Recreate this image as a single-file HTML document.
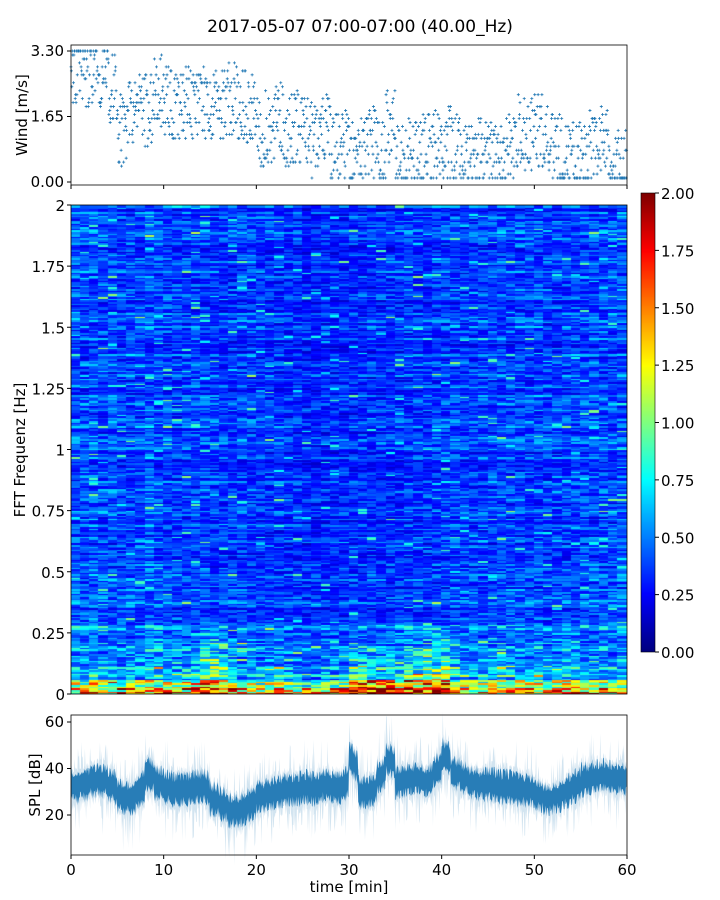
<!DOCTYPE html>
<html><head><meta charset="utf-8">
<style>
body{margin:0;background:#fff;width:720px;height:900px;overflow:hidden;font-family:"DejaVu Sans",sans-serif}
#wrap{position:relative;width:720px;height:900px}
svg text{font-family:"DejaVu Sans",sans-serif;fill:#000}
canvas{position:absolute}
</style></head><body>
<div id="wrap">
<canvas id="hm" width="556" height="489" style="left:71px;top:205px"></canvas>
<canvas id="cb" width="14" height="459" style="left:641px;top:193px"></canvas>
<svg id="sv" width="720" height="900" style="position:absolute;left:0;top:0"></svg>
</div>
<script>
// ---- data ----
const minutes = Array.from({length:60},(_, i)=>i);
const windMean = [2.8,2.7,2.8,2.7,2.4,1.3,1.8,2.0,1.8,2.3,2.0,1.8,2.0,1.9,2.0,1.9,1.9,2.1,1.9,1.8,1.2,1.4,1.6,1.3,1.4,1.3,1.0,1.3,1.0,0.9,0.6,0.7,1.0,0.6,1.4,0.6,0.7,0.8,0.9,0.9,1.0,0.8,0.5,0.5,0.7,0.6,0.6,0.9,1.3,1.2,1.3,1.0,0.8,0.6,0.6,0.6,0.9,1.2,0.5,0.5];
const splMean = [32,33,35,35,33,28,27,30,38,34,32,31,31,32,33,27,25,22,22,24,28,29,30,31,31,32,31,33,32,31,45,30,30,36,45,34,35,36,34,38,46,38,36,34,33,33,32,32,31,31,29,27,28,30,32,35,36,37,36,36];
const lowBand = [1.4,1.5,1.6,1.5,1.4,1.5,1.6,1.4,1.5,1.6,1.5,1.4,1.6,1.7,2.0,2.0,1.8,1.5,1.4,1.3,1.3,1.4,1.5,1.4,1.4,1.3,1.3,1.4,1.5,1.5,2.0,2.0,2.0,2.0,2.0,2.0,2.0,2.0,2.0,2.0,2.0,1.8,1.5,1.3,1.3,1.4,1.4,1.4,1.3,1.5,1.5,1.4,1.5,1.7,1.7,1.5,1.4,1.3,1.4,1.3];
const midBand = [0.6,0.6,0.7,0.6,0.6,0.6,0.7,0.6,0.7,0.7,0.6,0.6,0.7,0.8,1.0,1.0,0.9,0.7,0.6,0.6,0.6,0.6,0.7,0.6,0.6,0.5,0.5,0.6,0.6,0.6,0.9,0.9,0.8,0.7,0.7,0.8,0.9,1.0,1.1,1.1,1.1,0.8,0.6,0.6,0.6,0.6,0.7,0.7,0.6,0.6,0.7,0.6,0.6,0.7,0.7,0.6,0.6,0.6,0.6,0.6];
const upperBand = [0.40,0.40,0.42,0.40,0.40,0.38,0.39,0.38,0.42,0.40,0.38,0.37,0.37,0.38,0.38,0.37,0.36,0.36,0.37,0.37,0.36,0.35,0.35,0.34,0.34,0.32,0.32,0.32,0.32,0.33,0.34,0.34,0.34,0.34,0.35,0.35,0.36,0.36,0.36,0.37,0.37,0.38,0.37,0.37,0.38,0.38,0.39,0.39,0.38,0.38,0.38,0.37,0.38,0.38,0.38,0.39,0.40,0.40,0.40,0.40];
const cbTicks = ["0.00","0.25","0.50","0.75","1.00","1.25","1.50","1.75","2.00"];
const freqTicks = [0,0.25,0.5,0.75,1,1.25,1.5,1.75,2];
const freqLabels = ["0","0.25","0.5","0.75","1","1.25","1.5","1.75","2"];
const timeTicks = [0,10,20,30,40,50,60];
const windTicks = [0,1.65,3.3];
const windLabels = ["0.00","1.65","3.30"];
const splTicks = [20,40,60];

// ---- helpers ----
function hash(a,b){let h=(a*374761393+b*668265263)>>>0;h=((h^(h>>>13))*1274126177)>>>0;return ((h^(h>>>16))>>>0)/4294967296;}
function jet(v){v=Math.max(0,Math.min(1,v));
 const r=Math.max(0,Math.min(1,1.5-Math.abs(4*v-3))),g=Math.max(0,Math.min(1,1.5-Math.abs(4*v-2))),b=Math.max(0,Math.min(1,1.5-Math.abs(4*v-1)));
 return [r*255|0,g*255|0,b*255|0];}
const NS="http://www.w3.org/2000/svg";
const sv=document.getElementById('sv');
function el(t,a,txt){const e=document.createElementNS(NS,t);for(const k in a)e.setAttribute(k,a[k]);if(txt!==undefined)e.textContent=txt;sv.appendChild(e);return e;}
const tx=t=>71+t/60*556;

// ---- heatmap ----
const hm=document.getElementById('hm').getContext('2d');
const nRows=300, rowH=489/nRows, colW=556/60;
function baseVal(f,c){
 if(f<0.025) return lowBand[c];
 if(f<0.06) return (lowBand[c]*0.5+midBand[c]*0.5);
 if(f<0.3){const k=(f-0.06)/0.24;return midBand[c]*(1-k)+upperBand[c]*1.3*k;}
 return upperBand[c];
}
for(let c=0;c<60;c++){
 for(let r=0;r<nRows;r++){
  const f=(r+0.5)*2/nRows;
  const rowF=0.5+hash(r*3+7,999);
  let v=baseVal(f,c)*(0.45+0.55*rowF)*(0.55+0.9*hash(r*7+1,c*13+5));
  if(hash(r+91,c+17)>0.975) v+=0.45;
  const [R,G,B]=jet(v/2);
  hm.fillStyle=`rgb(${R},${G},${B})`;
  hm.fillRect(Math.floor(c*colW),Math.floor(489-(r+1)*rowH),Math.ceil(colW)+1,Math.ceil(rowH)+1);
 }
}
// ---- colorbar ----
const cb=document.getElementById('cb').getContext('2d');
for(let y=0;y<459;y++){const [R,G,B]=jet(1-y/458);cb.fillStyle=`rgb(${R},${G},${B})`;cb.fillRect(0,y,14,1);}

// ---- title ----
let t=el('text',{x:360,y:32,'font-size':17,'text-anchor':'middle'},'2017-05-07 07:00-07:00 (40.00_Hz)');


// ---- wind panel ----
const wy=v=>182-v/3.3*131;
for(let c=0;c<60;c++){
 for(let k=0;k<22;k++){
  let v=windMean[c]+(hash(c*31+k,k*7+3)-0.5)*1.9;
  v=Math.max(0.1,Math.min(3.3,Math.round(v*10)/10));
  const x=tx(c+k/22), y=wy(v);
  const p=el('path',{d:`M${x-1.5},${y}h3M${x},${y-1.5}v3`,stroke:'#1f77b4','stroke-width':0.8});
  
 }
}
el('rect',{x:71,y:45,width:556,height:140,fill:'none',stroke:'#000','stroke-width':0.8,});
windTicks.forEach((v,i)=>{el('line',{x1:67,x2:71,y1:wy(v),y2:wy(v),stroke:'#000'});
 el('text',{x:64,y:wy(v)+5,'font-size':15,'text-anchor':'end',},windLabels[i]);});
timeTicks.forEach(v=>el('line',{x1:tx(v),x2:tx(v),y1:185,y2:189,stroke:'#000'}));
el('text',{x:27,y:115,'font-size':15,'text-anchor':'middle',transform:'rotate(-90 27 115)',},'Wind [m/s]');

// ---- heatmap axes ----
const fy=f=>694-f/2*489;
el('rect',{x:71,y:205,width:556,height:489,fill:'none',stroke:'#000','stroke-width':0.8,});
freqTicks.forEach((f,i)=>{el('line',{x1:67,x2:71,y1:fy(f),y2:fy(f),stroke:'#000'});
 el('text',{x:65,y:fy(f)+6,'font-size':15,'text-anchor':'end',},freqLabels[i]);});
el('text',{x:25,y:450,'font-size':15,'text-anchor':'middle',transform:'rotate(-90 25 450)',},'FFT Frequenz [Hz]');
el('rect',{x:641,y:193,width:14,height:459,fill:'none',stroke:'#000','stroke-width':0.6});
cbTicks.forEach((s,i)=>{const y=652-i/8*459;el('line',{x1:655,x2:659,y1:y,y2:y,stroke:'#000'});
 el('text',{x:661,y:y+6,'font-size':15,},s);});

// ---- SPL panel ----
const sy=v=>815-(v-20)/20*46.5;
let up=[],dn=[],up2=[],dn2=[];
for(let c=0;c<60;c++){
 for(let k=0;k<16;k++){
  const m=splMean[c]+(splMean[Math.min(59,c+1)]-splMean[c])*k/16*0.3;
  const x=tx(c+k/16);
  const a=3+5*hash(c*5+k,11), b=3+5*hash(c*3+k,29);
  up.push([x,sy(m+a)]);dn.push([x,sy(m-b)]);
  const sa=hash(k,c)>0.8?6+8*hash(c,k+9):1+2*hash(k+4,c);
  const sb=hash(c+2,k)>0.75?6+10*hash(c,k+3):1+3*hash(k+8,c);
  up2.push([x,sy(m+a+sa)]);dn2.push([x,sy(m-b-sb)]);
 }
}
const poly=(u,d)=>u.map(p=>p.join(',')).join(' ')+' '+d.slice().reverse().map(p=>p.join(',')).join(' ');
el('polygon',{points:poly(up2,dn2),fill:'#1f77b4','fill-opacity':0.2,});
el('polygon',{points:poly(up,dn),fill:'#1f77b4','fill-opacity':0.95,});
el('rect',{x:71,y:715,width:556,height:140,fill:'none',stroke:'#000','stroke-width':0.8,});
splTicks.forEach(v=>{el('line',{x1:67,x2:71,y1:sy(v),y2:sy(v),stroke:'#000'});
 el('text',{x:64,y:sy(v)+5,'font-size':15,'text-anchor':'end',},String(v));});
timeTicks.forEach(v=>{el('line',{x1:tx(v),x2:tx(v),y1:855,y2:859,stroke:'#000'});
 el('text',{x:tx(v),y:875,'font-size':15,'text-anchor':'middle',},String(v));});
el('text',{x:40,y:785,'font-size':15,'text-anchor':'middle',transform:'rotate(-90 40 785)',},'SPL [dB]');
el('text',{x:349,y:892,'font-size':15,'text-anchor':'middle',},'time [min]');
</script>
</body></html>
